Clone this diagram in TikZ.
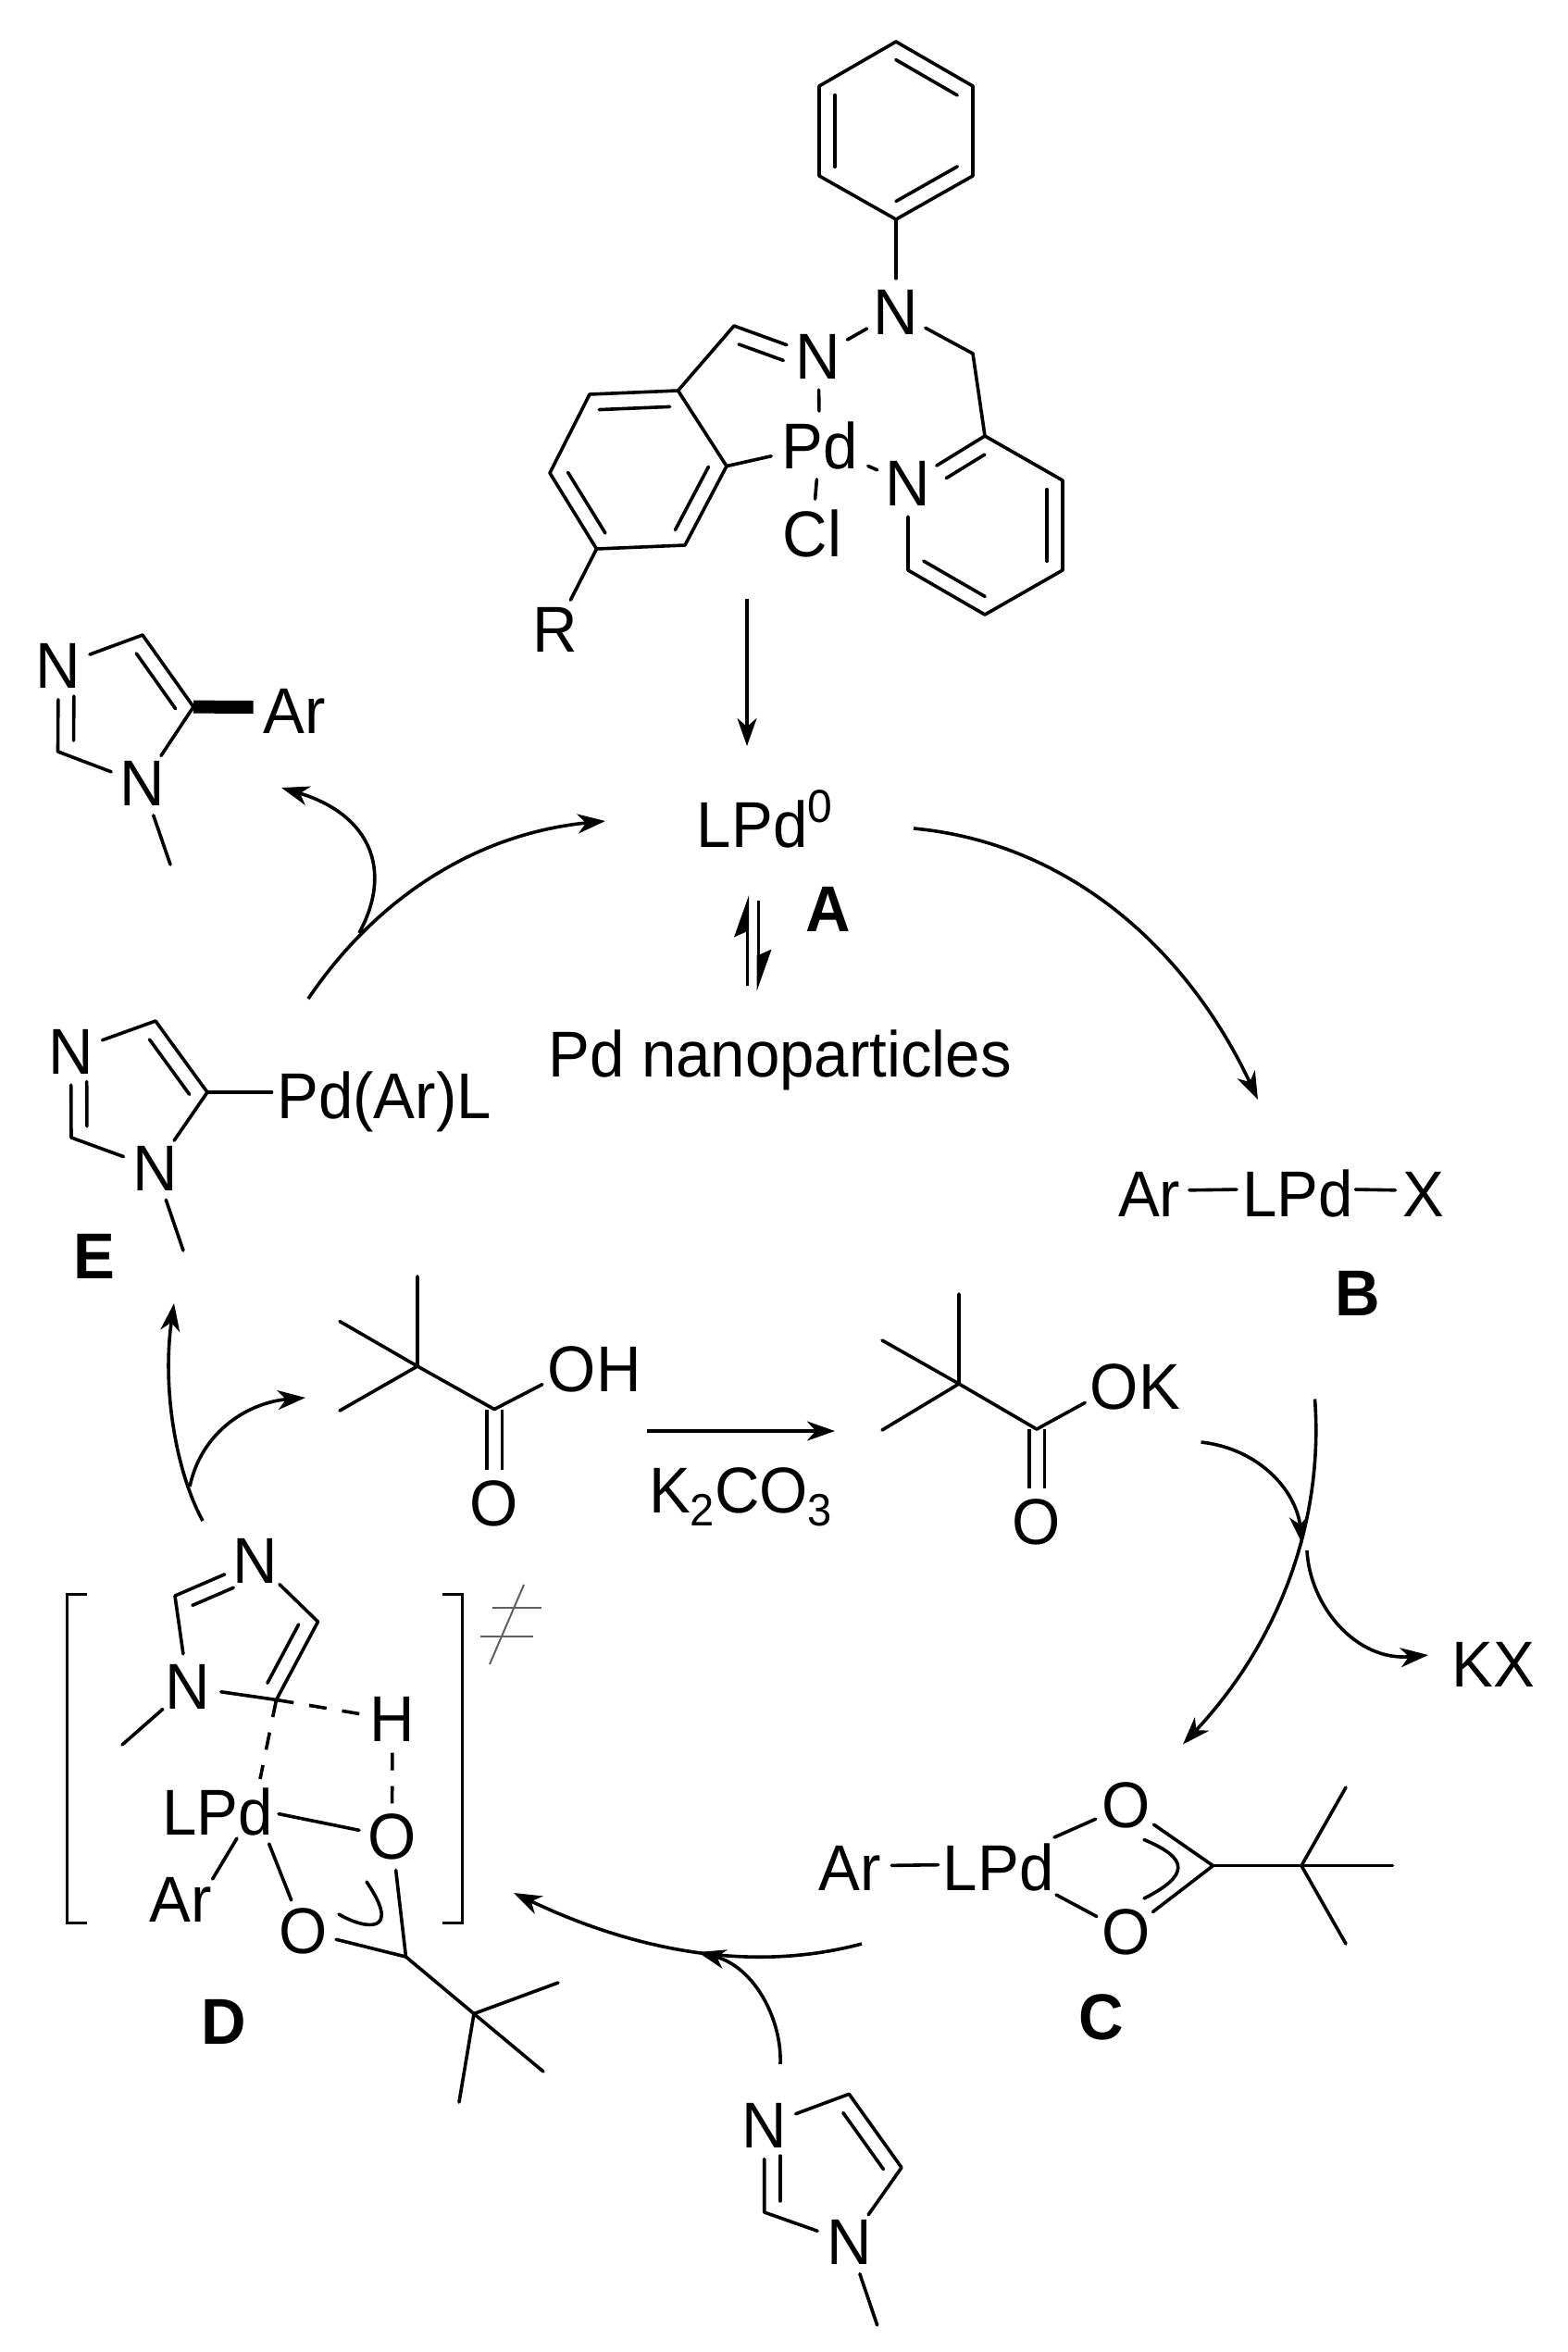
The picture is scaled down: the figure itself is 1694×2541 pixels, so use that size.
\documentclass[tikz,border=0pt]{standalone}
\usepackage{fontspec}
\setmainfont{Liberation Sans}[FakeStretch=0.96]
\usetikzlibrary{arrows.meta, calc}
\definecolor{Dim}{HTML}{606060}
\newcommand{\chemfont}{\fontsize{70}{80}\selectfont}
\newcommand{\chembold}{\fontsize{70}{80}\selectfont\bfseries}
\newcommand{\lowtxt}[1]{\raisebox{-14pt}{\fontsize{49}{50}\selectfont #1}}
\newcommand{\hightxt}[1]{\raisebox{27pt}{\fontsize{50}{50}\selectfont #1}}
\newcommand{\inbond}[5]{\draw[bond] ($(#1)!#4!(#2)!17pt!#3:(#2)$) -- ($(#2)!#5!(#1)!17pt!-#3:(#1)$);}

\begin{document}
\begin{tikzpicture}[
            x=1pt, y=-1pt,
            every node/.style={font=\chemfont},
            atom/.style={circle, inner sep=0pt, minimum size=72pt},
            tag/.style={rectangle, inner sep=11pt},
            txt/.style={anchor=base, inner sep=0pt},
            cpd/.style={anchor=base, inner sep=0pt, font=\chembold},
            bond/.style={line width=3.6pt, line cap=round, line join=round},
            dbond/.style={line width=3.6pt, double, double distance=13pt},
            wedge/.style={line width=14pt},
            dashbond/.style={line width=3.6pt, dash pattern=on 19pt off 17pt},
            brk/.style={line width=3pt, line join=miter},
            arrow/.style={line width=3.6pt, -{Stealth[length=30pt, width=21pt, inset=9pt]}},
            halfarrow/.style={line width=3.6pt, -{Stealth[length=40pt, width=28pt, inset=6pt, harpoon]}},
            neq/.style={line width=2pt, color=Dim}
        ]
            \useasboundingbox (0,0) rectangle (1694,2541);

            % Precatalyst
            \coordinate (ph1) at (968,45);
            \coordinate (ph2) at (1051,93);
            \coordinate (ph3) at (1051,190);
            \coordinate (ph4) at (968,237);
            \coordinate (ph5) at (885,190);
            \coordinate (ph6) at (885,93);
            \coordinate (bz1) at (785,503.6);
            \coordinate (bz2) at (732.5,422);
            \coordinate (bz3) at (637,426);
            \coordinate (bz4) at (594,511);
            \coordinate (bz5) at (644.5,593);
            \coordinate (bz6) at (740,589);
            \coordinate (imc) at (793,352);
            \coordinate (ch2) at (1051,382);
            \coordinate (py2) at (1064,471);
            \coordinate (py3) at (1148,519);
            \coordinate (py4) at (1148,616);
            \coordinate (py5) at (1064,664);
            \coordinate (py6) at (981,616);
            \node[atom] (nph) at (968,337) {N};
            \node[atom] (nim) at (884,385) {N};
            \node[atom] (npy) at (981,522) {N};
            \node[tag] (pd) at (885.5,481) {Pd};
            \node[tag] (cl) at (877.5,576) {Cl};
            \node[atom] (rgp) at (600,680.5) {R};

            \draw[bond] (ph1) -- (ph2) -- (ph3) -- (ph4) -- (ph5) -- (ph6) -- cycle;
            \inbond{ph1}{ph2}{270}{0.1}{0.1}
            \inbond{ph3}{ph4}{270}{0.1}{0.1}
            \inbond{ph5}{ph6}{270}{0.1}{0.1}
            \draw[bond] (bz1) -- (bz2) -- (bz3) -- (bz4) -- (bz5) -- (bz6) -- cycle;
            \inbond{bz2}{bz3}{90}{0.1}{0.1}
            \inbond{bz4}{bz5}{90}{0.1}{0.1}
            \inbond{bz6}{bz1}{90}{0.1}{0.1}
            \draw[bond] (ph4) -- (nph);
            \draw[bond] (nph) -- (nim);
            \draw[bond] (bz2) -- (imc) -- (nim);
            \inbond{imc}{nim}{270}{0.12}{0.35}
            \draw[bond] (nim) -- (pd);
            \draw[bond] (bz1) -- (pd);
            \draw[bond] (pd) -- (cl);
            \draw[bond] (pd) -- (npy);
            \draw[bond] (nph) -- (ch2) -- (py2);
            \draw[bond] (npy) -- (py2) -- (py3) -- (py4) -- (py5) -- (py6) -- (npy);
            \inbond{py2}{npy}{90}{0.11}{0.39}
            \inbond{py3}{py4}{270}{0.1}{0.1}
            \inbond{py5}{py6}{270}{0.1}{0.1}
            \draw[bond] (bz5) -- (rgp);

            % Cycle labels
            \node[txt] (lpda) at (826,915) {LPd\hightxt{0}};
            \node[cpd] (la) at (895,1006) {A};
            \node[txt] (nano) at (842.5,1163) {Pd nanoparticles};
            \node[cpd] (lb) at (1466.5,1421.5) {B};
            \node[cpd] (lc) at (1190,2203) {C};
            \node[cpd] (ld) at (241.5,2208) {D};
            \node[cpd] (le) at (102,1381.6) {E};

            % Arylated product
            \coordinate (cp2) at (62.5,812);
            \coordinate (cp4) at (154,686);
            \coordinate (cp5) at (209,763.6);
            \coordinate (mep) at (184,934);
            \coordinate (arw) at (273.6,764);
            \node[atom] (np3) at (63,719.6) {N};
            \node[atom] (np1) at (154,846.6) {N};
            \node[txt] (arp) at (318.5,792) {Ar};
            \draw[bond] (np3) -- (cp4) -- (cp5) -- (np1) -- (cp2) -- (np3);
            \inbond{cp4}{cp5}{270}{0.13}{0.1}
            \inbond{np3}{cp2}{90}{0.35}{0.13}
            \draw[bond] (np1) -- (mep);
            \draw[wedge] (cp5) -- (arw);

            % Intermediate E
            \coordinate (ce2) at (77,1229);
            \coordinate (ce4) at (168,1103);
            \coordinate (ce5) at (224,1180);
            \coordinate (mee) at (198,1351);
            \node[atom] (ne3) at (76.5,1136) {N};
            \node[atom] (ne1) at (167.6,1262) {N};
            \node[txt] (pdar) at (415,1208) {Pd(Ar)L};
            \draw[bond] (ne3) -- (ce4) -- (ce5) -- (ne1) -- (ce2) -- (ne3);
            \inbond{ce4}{ce5}{270}{0.13}{0.1}
            \inbond{ne3}{ce2}{90}{0.35}{0.13}
            \draw[bond] (ne1) -- (mee);
            \draw[bond, shorten >=5.5pt] (ce5) -- (ce5 -| pdar.west);

            % Intermediate B
            \node[txt] (arb) at (1241.7,1314) {Ar};
            \node[txt] (lpdb) at (1402,1314) {LPd};
            \node[txt] (xb) at (1538,1314) {X};
            \draw[bond, shorten <=9.4pt, shorten >=6pt] ([yshift=4pt]arb.east) -- ([yshift=4pt]lpdb.west);
            \draw[bond, shorten <=2.4pt, shorten >=8pt] ([yshift=4pt]lpdb.east) -- ([yshift=4pt]xb.west);

            % Pivalic acid and pivalate
            \coordinate (pa1) at (451,1476);
            \coordinate (pa2) at (534,1522.5);
            \coordinate (pa3) at (451,1379);
            \coordinate (pa4) at (367,1427.5);
            \coordinate (pa5) at (367,1524);
            \node[atom] (paoh) at (618,1479) {O\rlap{H}};
            \node[atom] (pao) at (534,1624) {O};
            \draw[dbond] (pa2) -- (pao);
            \draw[bond] (pa3) -- (pa1) -- (pa2) -- (paoh);
            \draw[bond] (pa4) -- (pa1) -- (pa5);

            \coordinate (pk1) at (1036,1495);
            \coordinate (pk2) at (1120,1544);
            \coordinate (pk3) at (1036,1398);
            \coordinate (pk4) at (953,1448);
            \coordinate (pk5) at (953,1545);
            \node[atom] (pkok) at (1204,1498) {O\rlap{K}};
            \node[atom] (pko) at (1120,1644) {O};
            \draw[dbond] (pk2) -- (pko);
            \draw[bond] (pk3) -- (pk1) -- (pk2) -- (pkok);
            \draw[bond] (pk4) -- (pk1) -- (pk5);
            \node[txt] (kco) at (800,1634.5) {K\lowtxt{2}CO\lowtxt{3}};
            \node[txt] (kx) at (1613.7,1822) {KX};

            % Intermediate C
            \coordinate (ccc) at (1310.5,2015.6);
            \coordinate (ctb) at (1406,2015.6);
            \coordinate (cm1) at (1504.5,2015.6);
            \coordinate (cm2) at (1454,1931);
            \coordinate (cm3) at (1454,2100);
            \coordinate (lpc1) at (1139,1985);
            \coordinate (lpc2) at (1141,2047);
            \coordinate (cva) at (1236,1987.5);
            \coordinate (cvb) at (1236,2051);
            \node[txt] (arc) at (917.8,2042.6) {Ar};
            \node[txt] (lpdc) at (1078.6,2042.6) {LPd};
            \node[atom] (oc1) at (1216.8,1950.5) {O};
            \node[atom] (oc2) at (1216.8,2087.5) {O};
            \draw[bond, shorten <=11.7pt, shorten >=5pt] ([yshift=3pt]arc.east) -- ([yshift=3pt]lpdc.west);
            \draw[bond] (lpc1) -- (oc1);
            \draw[bond] (lpc2) -- (oc2);
            \draw[bond] (oc1) -- (ccc) -- (oc2);
            \draw[bond] (ccc) -- (ctb) -- (cm1);
            \draw[bond] (cm2) -- (ctb) -- (cm3);
            \draw[bond] (cva) .. controls (1285,2008) and (1285,2026) .. (cvb);

            % Intermediate D
            \coordinate (cd2) at (189,1724);
            \coordinate (cd4) at (343.5,1752);
            \coordinate (cd5) at (298.5,1836.4);
            \coordinate (med) at (132,1885);
            \coordinate (pdt) at (281,1922);
            \coordinate (pdr) at (301,1959.6);
            \coordinate (pdb) at (290.7,1992);
            \coordinate (pdl) at (256,1986);
            \coordinate (arl) at (229.6,2030);
            \coordinate (cdo) at (438.5,2114);
            \coordinate (dtb) at (512,2175.5);
            \coordinate (dm1) at (603,2142);
            \coordinate (dm2) at (587,2238);
            \coordinate (dm3) at (496,2271);
            \coordinate (dva) at (366,2068);
            \coordinate (dvb) at (396,2033);
            \coordinate (brla) at (94,1722.6);
            \coordinate (brlb) at (94,2077);
            \coordinate (brra) at (477.6,1722.6);
            \coordinate (brrb) at (477.6,2077);
            \coordinate (nea) at (532,1737);
            \coordinate (neb) at (584.5,1737);
            \coordinate (nec) at (519,1768);
            \coordinate (ned) at (576,1768);
            \coordinate (nee) at (566,1712);
            \coordinate (nef) at (529,1798);
            \node[atom] (nd3) at (276,1686.5) {N};
            \node[atom] (nd1) at (203,1822.6) {N};
            \node[atom] (hd) at (424,1857.5) {H};
            \node[txt] (lpdd) at (235,1982) {LPd};
            \node[txt] (ard) at (195,2076) {Ar};
            \node[atom] (od1) at (423.5,1984.5) {O};
            \node[atom] (od2) at (328,2086.5) {O};
            \draw[bond] (nd3) -- (cd2) -- (nd1) -- (cd5) -- (cd4) -- (nd3);
            \inbond{nd3}{cd2}{90}{0.35}{0.14}
            \inbond{cd4}{cd5}{270}{0.13}{0.12}
            \draw[bond] (nd1) -- (med);
            \draw[dashbond] (cd5) -- (pdt);
            \draw[dashbond, shorten >=28pt] (cd5) -- (hd.center);
            \draw[dashbond] (hd) -- (od1);
            \draw[bond] (pdr) -- (od1);
            \draw[bond] (pdb) -- (od2);
            \draw[bond] (pdl) -- (arl);
            \draw[bond] (od1) -- (cdo) -- (od2);
            \draw[bond] (cdo) -- (dtb) -- (dm1);
            \draw[bond] (dm2) -- (dtb) -- (dm3);
            \draw[bond] (dva) .. controls (395,2085) and (435,2090) .. (dvb);
            \draw[brk] (brla) -- ++(-22,0) |- (brlb);
            \draw[brk] (brra) -- ++(22,0) |- (brrb);
            \draw[neq] (nea) -- (neb);
            \draw[neq] (nec) -- (ned);
            \draw[neq] (nee) -- (nef);

            % N-methylimidazole
            \coordinate (cb2) at (825.7,2390);
            \coordinate (cb4) at (917.3,2262.3);
            \coordinate (cb5) at (974,2341.7);
            \coordinate (meb) at (947.7,2512);
            \node[atom] (nb3) at (825.7,2296.3) {N};
            \node[atom] (nb1) at (917.3,2422.3) {N};
            \draw[bond] (nb3) -- (cb4) -- (cb5) -- (nb1) -- (cb2) -- (nb3);
            \inbond{cb4}{cb5}{270}{0.13}{0.1}
            \inbond{nb3}{cb2}{90}{0.35}{0.13}
            \draw[bond] (nb1) -- (meb);

            % Connections
            \coordinate (pre1) at (807,647);
            \coordinate (pre2) at (807,806);
            \coordinate (ab1) at (987,895);
            \coordinate (ab2) at (1359,1188);
            \coordinate (ea1) at (333,1079);
            \coordinate (ea2) at (654,887);
            \coordinate (ep1) at (388,1008);
            \coordinate (ep2) at (304,851);
            \coordinate (de1) at (219,1643);
            \coordinate (de2) at (188,1408);
            \coordinate (da1) at (205,1606);
            \coordinate (da2) at (330,1510);
            \coordinate (ra1) at (699,1546);
            \coordinate (ra2) at (902,1546);
            \coordinate (bc1) at (1420.5,1511.5);
            \coordinate (bc2) at (1278,1884.5);
            \coordinate (oj1) at (1297.6,1558);
            \coordinate (oj2) at (1407,1668);
            \coordinate (kx1) at (1412,1675);
            \coordinate (kx2) at (1543,1788);
            \coordinate (cd1) at (931,2100);
            \coordinate (cd6) at (555,2045);
            \coordinate (ij1) at (843,2230);
            \coordinate (ij2) at (754,2109);
            \coordinate (eq1) at (807.3,1065);
            \coordinate (eq2) at (807.3,967);
            \coordinate (eq3) at (819.3,973);
            \coordinate (eq4) at (819.3,1071);

            \draw[arrow] (pre1) -- (pre2);
            \draw[arrow] (ab1) .. controls (1150,910) and (1280,1020) .. (ab2);
            \draw[arrow] (ea1) .. controls (410,965) and (520,900) .. (ea2);
            \draw[arrow] (ep1) .. controls (425,940) and (400,880) .. (ep2);
            \draw[arrow] (de1) .. controls (190,1590) and (175,1500) .. (de2);
            \draw[arrow] (da1) .. controls (218,1545) and (270,1515) .. (da2);
            \draw[arrow] (ra1) -- (ra2);
            \draw[arrow] (bc1) .. controls (1430,1640) and (1385,1770) .. (bc2);
            \draw[arrow] (oj1) .. controls (1360,1565) and (1400,1610) .. (oj2);
            \draw[arrow] (kx1) .. controls (1415,1735) and (1465,1795) .. (kx2);
            \draw[arrow] (cd1) .. controls (800,2135) and (670,2100) .. (cd6);
            \draw[arrow] (ij1) .. controls (845,2182) and (815,2125) .. (ij2);
            \draw[halfarrow] (eq1) -- (eq2);
            \draw[halfarrow] (eq3) -- (eq4);
        \end{tikzpicture}
\end{document}
